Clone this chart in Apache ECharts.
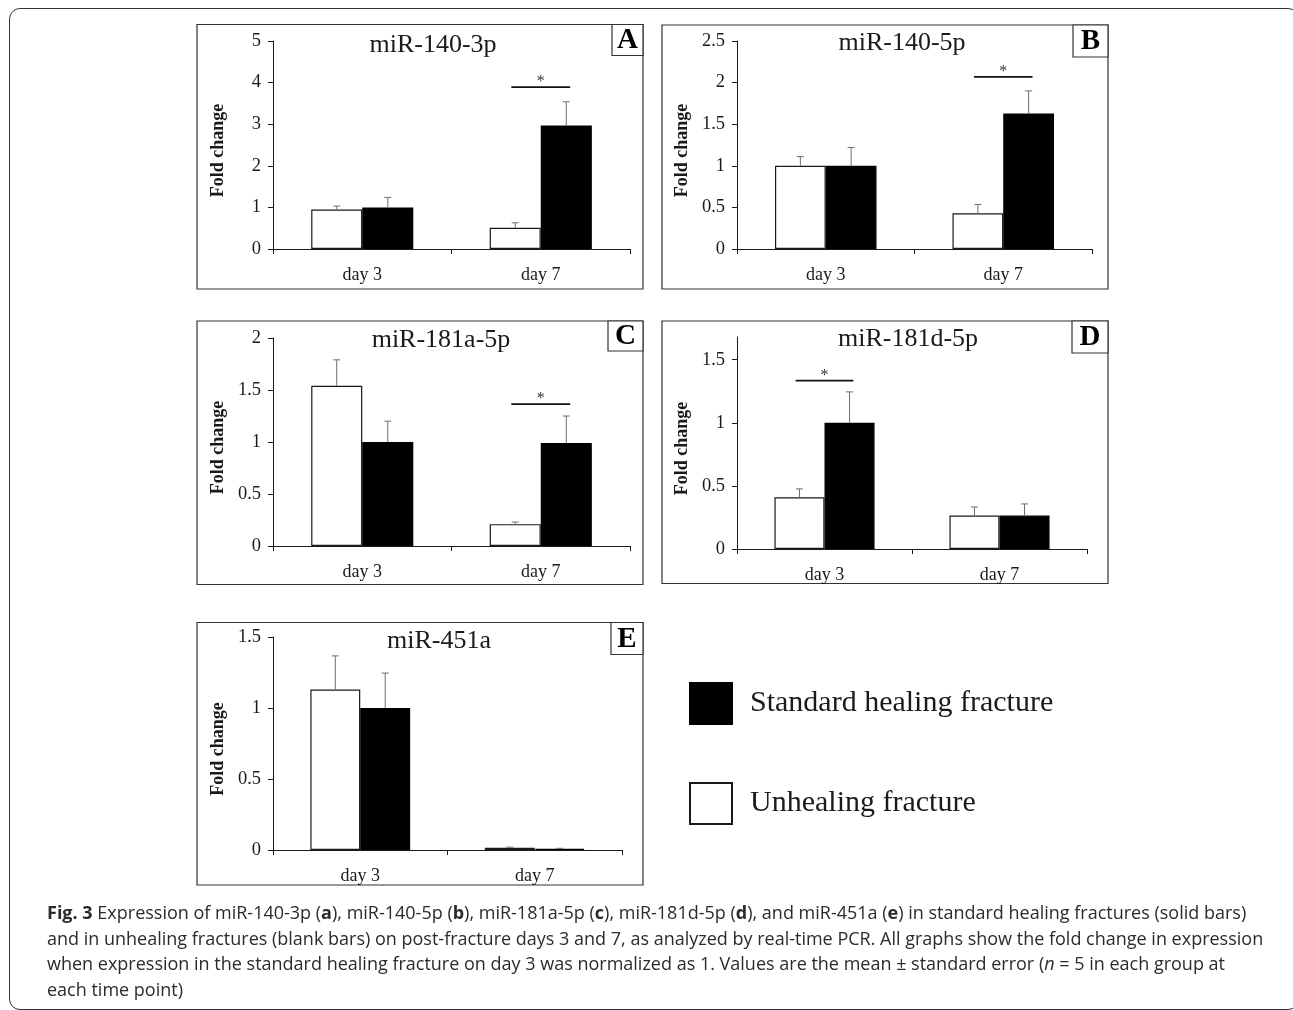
<!DOCTYPE html>
<html>
<head>
<meta charset="utf-8">
<script src="https://cdn.jsdelivr.net/npm/echarts@6/dist/echarts.min.js"></script>
<style>
  html, body { margin: 0; padding: 0; background: #fff; }
  #frame { position: absolute; left: 9px; top: 8px; width: 1290px; height: 1002px;
           border: 1.5px solid #333; border-radius: 11px; box-sizing: border-box; }
  #chart { position: absolute; left: 0; top: 0; width: 1293px; height: 1010px; }
  #caption { position: absolute; left: 47px; top: 900px; font-family: "Open Sans", sans-serif;
             font-size: 18px; line-height: 25.5px; color: #2b2b2b; white-space: nowrap; }
</style>
</head>
<body>
<div id="frame"></div>
<div id="chart"></div>
<div id="caption"><b>Fig. 3</b> Expression of miR-140-3p (<b>a</b>), miR-140-5p (<b>b</b>), miR-181a-5p (<b>c</b>), miR-181d-5p (<b>d</b>), and miR-451a (<b>e</b>) in standard healing fractures (solid bars)<br>and in unhealing fractures (blank bars) on post-fracture days 3 and 7, as analyzed by real-time PCR. All graphs show the fold change in expression<br>when expression in the standard healing fracture on day 3 was normalized as 1. Values are the mean ± standard error (<i>n</i> = 5 in each group at<br>each time point)</div>
<script>
// ---------------- data ----------------
const categories = ['day 3', 'day 7'];
const panelLetters = ['A', 'B', 'C', 'D', 'E'];
const panelTitles = ['miR-140-3p', 'miR-140-5p', 'miR-181a-5p', 'miR-181d-5p', 'miR-451a'];
const seriesNames = ['Unhealing fracture', 'Standard healing fracture'];
const unhealingMean = [[0.95, 0.51], [1.00, 0.43], [1.54, 0.21], [0.41, 0.265], [1.13, 0.015]];
const unhealingSE   = [[0.08, 0.12], [0.11, 0.105], [0.25, 0.02], [0.066, 0.068], [0.237, 0.005]];
const standardMean  = [[1.00, 2.97], [1.00, 1.63], [1.00, 0.99], [1.00, 0.265], [1.00, 0.008]];
const standardSE    = [[0.24, 0.57], [0.22, 0.27], [0.20, 0.26], [0.245, 0.092], [0.246, 0.004]];
const yMax = [5, 2.5, 2, 1.68, 1.5];
const yInterval = [1, 0.5, 0.5, 0.5, 0.5];
const yTicks = [[0, 1, 2, 3, 4, 5], [0, 0.5, 1, 1.5, 2, 2.5], [0, 0.5, 1, 1.5, 2], [0, 0.5, 1, 1.5], [0, 0.5, 1, 1.5]];
const sigCategory = [1, 1, 1, 0, null];
const sigLevel = [3.89, 2.07, 1.365, 1.334, null];
const yAxisName = 'Fold change';

// ---------------- layout ----------------
const grids = [
  { left: 273, top: 41, width: 357, height: 208 },
  { left: 737, top: 41, width: 355, height: 208 },
  { left: 273, top: 338, width: 357, height: 208 },
  { left: 737, top: 337, width: 350, height: 212 },
  { left: 273, top: 637, width: 349, height: 213 }
];
const boxes = [
  { x: 197, y: 24.5, w: 446, h: 264.5 },
  { x: 662, y: 25, w: 446, h: 264 },
  { x: 197, y: 321, w: 446, h: 263.5 },
  { x: 662, y: 321, w: 446, h: 262.5 },
  { x: 197, y: 622.5, w: 446, h: 262.5 }
];
const letterBoxW = [31, 35, 35, 36, 32];
const letterBoxH = [31, 32, 30, 32, 32];
const titlePos = [[433, 45], [902, 43], [441, 340], [908, 339], [439, 641]];

const SERIF = '"Liberation Serif", "Times New Roman", serif';
const BAR_FRAC = 0.286;
const INK = '#1a1a1a';

const chart = echarts.init(document.getElementById('chart'), null, { renderer: 'canvas' });

const xAxes = [], yAxes = [], series = [], graphics = [];

grids.forEach((g, i) => {
  xAxes.push({
    type: 'category', gridIndex: i, data: categories,
    axisLine: { lineStyle: { color: INK, width: 1 } },
    axisTick: { show: true, length: 5, lineStyle: { color: INK } },
    axisLabel: { color: INK, fontFamily: SERIF, fontSize: 18, margin: 17 }
  });
  yAxes.push({
    type: 'value', gridIndex: i, min: 0, max: yMax[i], interval: yInterval[i],
    name: yAxisName, nameLocation: 'middle', nameGap: 46, nameRotate: 90,
    nameTextStyle: { fontFamily: SERIF, fontWeight: 'bold', fontSize: 18, color: INK, padding: [0, 11, 0, 0] },
    splitLine: { show: false },
    axisLine: { show: true, lineStyle: { color: INK, width: 1 } },
    axisTick: { show: true, length: 5, lineStyle: { color: INK }, customValues: yTicks[i] },
    axisLabel: {
      color: INK, fontFamily: SERIF, fontSize: 18.5, margin: 12, customValues: yTicks[i],
      formatter: v => (yTicks[i].some(t => Math.abs(t - v) < 1e-9) ? String(v) : '')
    }
  });

  const barCommon = { type: 'bar', xAxisIndex: i, yAxisIndex: i, barWidth: (BAR_FRAC * 100) + '%', barGap: '0%' };
  series.push(Object.assign({}, barCommon, {
    name: seriesNames[0], data: unhealingMean[i],
    itemStyle: { color: '#ffffff', borderColor: INK, borderWidth: 1.2 }
  }));
  series.push(Object.assign({}, barCommon, {
    name: seriesNames[1], data: standardMean[i],
    itemStyle: { color: '#000000', borderColor: '#000000', borderWidth: 1.2 }
  }));

  // error bars (upper only)
  [[unhealingMean[i], unhealingSE[i], -1], [standardMean[i], standardSE[i], 1]].forEach(([m, se, side]) => {
    series.push({
      type: 'custom', xAxisIndex: i, yAxisIndex: i, z: 5, silent: true,
      data: m.map((v, k) => [k, v, se[k]]),
      renderItem: (params, api) => {
        const cat = api.value(0), mean = api.value(1), err = api.value(2);
        const band = api.size([1, 0])[0];
        const base = api.coord([cat, mean]);
        const top = api.coord([cat, mean + err]);
        const x = base[0] + side * band * BAR_FRAC / 2;
        const st = { stroke: '#6e6e6e', lineWidth: 1 };
        return {
          type: 'group', children: [
            { type: 'line', shape: { x1: x, y1: base[1], x2: x, y2: top[1] }, style: st },
            { type: 'line', shape: { x1: x - 3.5, y1: top[1], x2: x + 3.5, y2: top[1] }, style: st }
          ]
        };
      }
    });
  });

  // significance marker
  if (sigCategory[i] !== null) {
    series.push({
      type: 'custom', xAxisIndex: i, yAxisIndex: i, z: 6, silent: true,
      data: [[sigCategory[i], sigLevel[i]]],
      renderItem: (params, api) => {
        const p = api.coord([api.value(0), api.value(1)]);
        const half = api.size([1, 0])[0] * 0.165;
        return {
          type: 'group', children: [
            { type: 'line', shape: { x1: p[0] - half, y1: p[1], x2: p[0] + half, y2: p[1] },
              style: { stroke: '#111', lineWidth: 1.8 } },
            { type: 'text', x: p[0], y: p[1] + 3,
              style: { text: '*', fill: '#333', font: '16px ' + SERIF, align: 'center', verticalAlign: 'bottom' } }
          ]
        };
      }
    });
  }

  // panel box, letter box, title
  const b = boxes[i];
  graphics.push({ type: 'rect', silent: true, z: 0,
    shape: { x: b.x, y: b.y, width: b.w, height: b.h },
    style: { fill: null, stroke: '#333', lineWidth: 1.2 } });
  const lw = letterBoxW[i], lh = letterBoxH[i];
  graphics.push({ type: 'rect', silent: true, z: 1,
    shape: { x: b.x + b.w - lw, y: b.y, width: lw, height: lh },
    style: { fill: '#fff', stroke: '#333', lineWidth: 1.2 } });
  graphics.push({ type: 'text', silent: true, z: 2,
    x: b.x + b.w - lw / 2, y: b.y + lh / 2 + 1,
    style: { text: panelLetters[i], font: 'bold 29px ' + SERIF, fill: '#000', align: 'center', verticalAlign: 'middle' } });
  graphics.push({ type: 'text', silent: true, z: 2,
    x: titlePos[i][0], y: titlePos[i][1],
    style: { text: panelTitles[i], font: '26px ' + SERIF, fill: INK, align: 'center', verticalAlign: 'middle' } });
});

chart.setOption({
  animation: false,
  grid: grids.map(g => Object.assign({ containLabel: false }, g)),
  xAxis: xAxes,
  yAxis: yAxes,
  legend: {
    data: [seriesNames[1], seriesNames[0]],
    orient: 'vertical', left: 689, top: 682, padding: 0,
    itemWidth: 42, itemHeight: 41, itemGap: 57, selectedMode: false,
    icon: 'rect',
    textStyle: { fontFamily: SERIF, fontSize: 30, color: INK, padding: [0, 0, 0, 13] }
  },
  graphic: graphics,
  series: series
});
</script>
</body>
</html>
